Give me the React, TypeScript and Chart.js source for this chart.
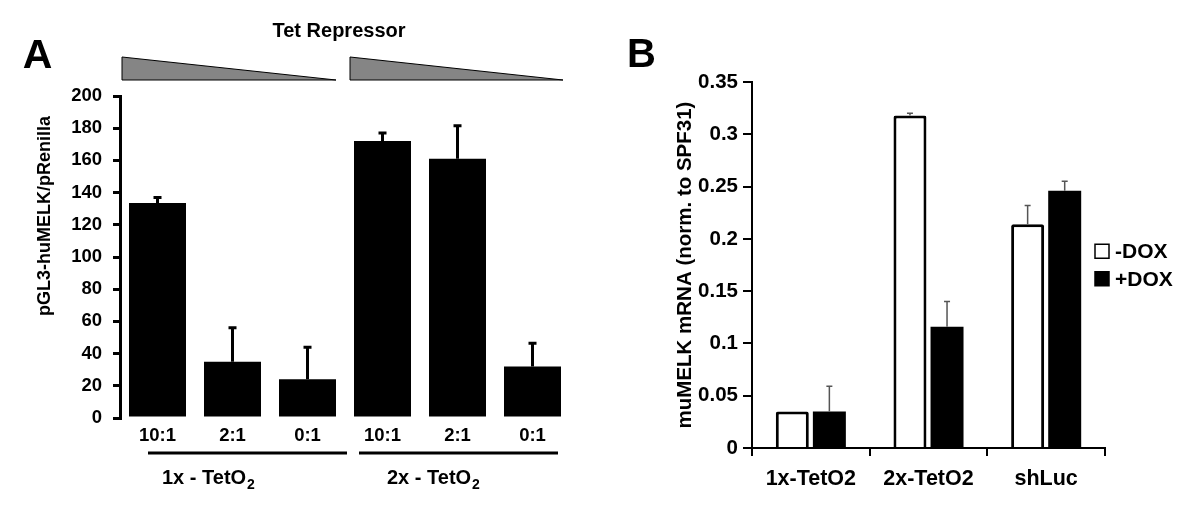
import React, { useEffect, useRef } from 'react';
import { Chart, registerables } from 'chart.js';

Chart.register(...registerables);

const FONT = "'Liberation Sans', Arial, Helvetica, sans-serif";

// ---------- Panel A data ----------
const ratiosA = ['10:1', '2:1', '0:1', '10:1', '2:1', '0:1'];
const valuesA = [133.5, 35, 24, 172, 161, 32];
const errorsA = [3.5, 21, 20, 5, 20.5, 14.5];
const groupNamesA = ['1x - TetO', '2x - TetO'];
const groupSubA = '2';
const titleA = 'pGL3-huMELK/pRenilla';
const topLabelA = 'Tet Repressor';

// ---------- Panel B data ----------
const categoriesB = ['1x-TetO2', '2x-TetO2', 'shLuc'];
const seriesNamesB = ['-DOX', '+DOX'];
const minusDox = [0.035, 0.318, 0.214];
const minusDoxErr = [0, 0.002, 0.018];
const plusDox = [0.035, 0.116, 0.246];
const plusDoxErr = [0.024, 0.024, 0.009];
const titleB = 'muMELK mRNA (norm. to SPF31)';

const errorBarPlugin = {
  id: 'errorBars',
  afterDatasetsDraw(chart: any, _args: any, opts: any) {
    const ctx = chart.ctx;
    const ys = chart.scales.y;
    chart.data.datasets.forEach((ds: any, i: number) => {
      const errs = ds.errors;
      if (!errs) return;
      const meta = chart.getDatasetMeta(i);
      meta.data.forEach((bar: any, j: number) => {
        const e = errs[j];
        if (!e) return;
        const v = ds.data[j];
        const x = bar.x;
        const y0 = ys.getPixelForValue(v);
        const y1 = ys.getPixelForValue(v + e);
        ctx.save();
        ctx.strokeStyle = opts.color;
        ctx.lineWidth = opts.width;
        ctx.beginPath();
        ctx.moveTo(x, y0);
        ctx.lineTo(x, y1);
        ctx.moveTo(x - opts.cap / 2, y1);
        ctx.lineTo(x + opts.cap / 2, y1);
        ctx.stroke();
        ctx.restore();
      });
    });
  },
};

const decorA = {
  id: 'decorA',
  afterDraw(chart: any) {
    const ctx = chart.ctx;
    const xs = chart.scales.x;
    const area = chart.chartArea;
    const w = (area.right - area.left) / ratiosA.length;
    ctx.save();
    // Panel letter
    ctx.fillStyle = '#000';
    ctx.font = `bold 41px ${FONT}`;
    ctx.textAlign = 'center';
    ctx.textBaseline = 'alphabetic';
    ctx.fillText('A', 37.5, 68);
    // Top label
    ctx.font = `bold 20px ${FONT}`;
    ctx.fillText(topLabelA, xs.getPixelForValue(2) + w / 2 - 6, 37);
    // Triangles
    for (let g = 0; g < 2; g++) {
      const gStart = xs.getPixelForValue(g * 3) - w / 2;
      const gEnd = xs.getPixelForValue(g * 3 + 2) + w / 2;
      const l = gStart + 2 + g * 3;
      const r = gEnd - 9 + g * 2;
      ctx.beginPath();
      ctx.moveTo(l, 57);
      ctx.lineTo(r, 80);
      ctx.lineTo(l, 80);
      ctx.closePath();
      ctx.fillStyle = '#858585';
      ctx.fill();
      ctx.strokeStyle = '#000';
      ctx.lineWidth = 1;
      ctx.stroke();
      // bracket line
      ctx.beginPath();
      ctx.lineWidth = 3;
      ctx.moveTo(g === 0 ? gStart + 28 : gStart + 14, 453);
      ctx.lineTo(g === 0 ? gEnd + 2 : gEnd - 12, 453);
      ctx.stroke();
      // group label
      ctx.fillStyle = '#000';
      ctx.textAlign = 'left';
      ctx.font = `bold 20px ${FONT}`;
      const tx = gStart + 42;
      ctx.fillText(groupNamesA[g], tx, 484);
      const tw = ctx.measureText(groupNamesA[g]).width;
      ctx.font = `bold 14px ${FONT}`;
      ctx.fillText(groupSubA, tx + tw + 1, 489);
      ctx.textAlign = 'center';
    }
    // Y title
    ctx.translate(45, 216);
    ctx.rotate(-Math.PI / 2);
    ctx.font = `bold 18px ${FONT}`;
    ctx.textAlign = 'center';
    ctx.textBaseline = 'middle';
    ctx.fillStyle = '#000';
    ctx.fillText(titleA, 0, 0);
    ctx.restore();
  },
};

const decorB = {
  id: 'decorB',
  afterDraw(chart: any) {
    const ctx = chart.ctx;
    const area = chart.chartArea;
    ctx.save();
    ctx.fillStyle = '#000';
    ctx.font = `bold 40px ${FONT}`;
    ctx.textAlign = 'center';
    ctx.textBaseline = 'alphabetic';
    ctx.fillText('B', 41.5, 67);
    // Legend
    const cy = (area.top + area.bottom) / 2;
    chart.data.datasets.forEach((ds: any, i: number) => {
      const y = cy - 13.75 + i * 27.5;
      const bx = area.right - 10;
      ctx.fillStyle = ds.backgroundColor;
      ctx.fillRect(bx, y - 7, 14, 14);
      ctx.strokeStyle = '#000';
      ctx.lineWidth = 1.5;
      ctx.strokeRect(bx, y - 7, 14, 14);
      ctx.fillStyle = '#000';
      ctx.font = `bold 21px ${FONT}`;
      ctx.textAlign = 'left';
      ctx.textBaseline = 'middle';
      ctx.fillText(ds.label, area.right + 10, y + 1);
    });
    ctx.restore();
  },
};

export default function App() {
  const refA = useRef<HTMLCanvasElement>(null);
  const refB = useRef<HTMLCanvasElement>(null);

  useEffect(() => {
    const tickFontA = { family: FONT, size: 18.5, weight: 'bold' as const };
    const chartA = new Chart(refA.current as HTMLCanvasElement, {
      type: 'bar',
      data: {
        labels: ratiosA,
        datasets: [
          {
            label: 'A',
            data: valuesA,
            errors: errorsA,
            backgroundColor: '#000',
            borderWidth: 0,
            barPercentage: 0.76,
            categoryPercentage: 1,
          } as any,
        ],
      },
      options: {
        responsive: false,
        animation: false,
        layout: { padding: { left: 0, right: 30, top: 96, bottom: 0 } },
        plugins: {
          legend: { display: false },
          tooltip: { enabled: false },
          errorBars: { color: '#000', width: 3, cap: 8 },
        } as any,
        scales: {
          x: {
            grid: { display: false, drawTicks: false },
            border: { display: false },
            ticks: { color: '#000', font: tickFontA, padding: 7 },
            afterFit: (s: any) => {
              s.height = 88;
            },
          },
          y: {
            min: 0,
            max: 200,
            ticks: { stepSize: 20, color: '#000', font: tickFontA, padding: 11 },
            grid: { drawOnChartArea: false, drawTicks: true, tickLength: 7, color: '#000', lineWidth: 3 },
            border: { display: true, color: '#000', width: 3 },
            afterFit: (s: any) => {
              s.width = 120;
            },
          },
        },
      },
      plugins: [errorBarPlugin, decorA],
    });

    const fontB = { family: FONT, size: 20.5, weight: 'bold' as const };
    const chartB = new Chart(refB.current as HTMLCanvasElement, {
      type: 'bar',
      data: {
        labels: categoriesB,
        datasets: [
          {
            label: seriesNamesB[0],
            data: minusDox,
            errors: minusDoxErr,
            backgroundColor: '#fff',
            borderColor: '#000',
            borderWidth: 3,
            borderSkipped: 'start',
            borderRadius: 2,
            barPercentage: 0.89,
            categoryPercentage: 0.63,
          } as any,
          {
            label: seriesNamesB[1],
            data: plusDox,
            errors: plusDoxErr,
            backgroundColor: '#000',
            borderWidth: 0,
            barPercentage: 0.89,
            categoryPercentage: 0.63,
          } as any,
        ],
      },
      options: {
        responsive: false,
        animation: false,
        layout: { padding: { left: 0, right: 95, top: 82, bottom: 0 } },
        plugins: {
          legend: { display: false },
          tooltip: { enabled: false },
          errorBars: { color: '#555', width: 1.5, cap: 6 },
        } as any,
        scales: {
          x: {
            grid: { display: true, offset: true, drawOnChartArea: false, drawTicks: true, tickLength: 8, color: '#000', lineWidth: 2 },
            border: { display: true, color: '#000', width: 2 },
            ticks: { color: '#000', font: { family: FONT, size: 21.5, weight: 'bold' }, padding: 10 },
            afterFit: (s: any) => {
              s.height = 58;
            },
          },
          y: {
            min: 0,
            max: 0.35,
            ticks: {
              stepSize: 0.05,
              color: '#000',
              font: fontB,
              padding: 5,
              callback: (v: any) => String(Math.round(Number(v) * 100) / 100),
            },
            grid: { drawOnChartArea: false, drawTicks: true, tickLength: 9, color: '#000', lineWidth: 2 },
            border: { display: true, color: '#000', width: 2 },
            title: {
              display: true,
              text: titleB,
              color: '#000',
              font: { family: FONT, size: 20.5, weight: 'bold' },
              padding: { top: 73, bottom: 0 },
            },
            afterFit: (s: any) => {
              s.width = 152;
            },
          },
        },
      },
      plugins: [errorBarPlugin, decorB],
    });

    return () => {
      chartA.destroy();
      chartB.destroy();
    };
  }, []);

  return (
    <div style={{ position: 'absolute', left: 0, top: 0, width: 1200, height: 506, background: '#fff' }}>
      <canvas
        ref={refA}
        width={600}
        height={506}
        style={{ position: 'absolute', left: 0, top: 0, width: 600, height: 506 }}
      />
      <canvas
        ref={refB}
        width={600}
        height={506}
        style={{ position: 'absolute', left: 600, top: 0, width: 600, height: 506 }}
      />
    </div>
  );
}
